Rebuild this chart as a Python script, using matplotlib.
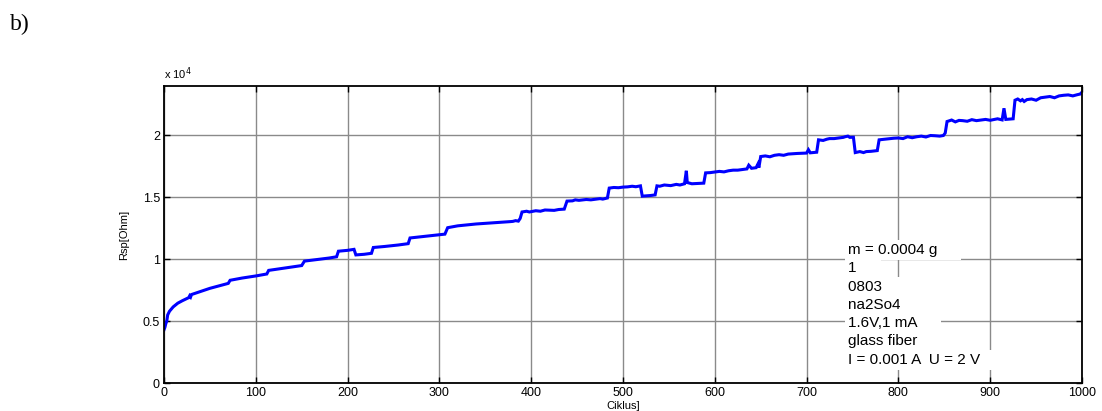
import matplotlib
matplotlib.use("Agg")
import matplotlib.pyplot as plt
from matplotlib.ticker import FuncFormatter, MultipleLocator

# Specific resistance vs. cycle number (breakpoints of the measured trace)
cycle = [0, 1, 2, 3, 4, 6, 10, 15, 20, 27, 28, 29, 30, 40, 50, 60, 70, 72,
         85, 100, 112, 114, 125, 140, 150, 153, 165, 180, 188, 190, 200, 207,
         209, 218, 226, 228, 240, 255, 266, 268, 280, 295, 306, 309, 320, 340,
         360, 377, 380, 383, 386, 388, 390, 395, 398, 405, 410, 415, 425, 430,
         436, 439, 445, 448, 452, 460, 465, 475, 478, 483, 485, 490, 495, 500,
         505, 510, 514, 519, 521, 530, 535, 537, 540, 545, 552, 558, 562, 567,
         569, 570, 575, 588, 590, 595, 600, 605, 610, 615, 620, 625, 630, 635,
         637, 640, 645, 647, 648, 650, 655, 660, 665, 670, 675, 680, 690, 700,
         702, 704, 711, 713, 718, 722, 725, 730, 735, 740, 742, 745, 747, 751,
         753, 758, 762, 765, 770, 777, 779, 785, 790, 795, 800, 805, 810, 815,
         820, 825, 830, 835, 840, 845, 849, 851, 853, 858, 862, 866, 870, 875,
         880, 885, 890, 895, 900, 905, 908, 913, 915, 917, 925, 927, 930, 933,
         935, 937, 940, 945, 950, 955, 960, 965, 970, 975, 980, 985, 990, 995,
         998, 1000]
rsp = [4300, 4500, 4800, 5000, 5500, 5800, 6150, 6450, 6650, 6900, 7050, 6950,
       7150, 7400, 7650, 7850, 8050, 8300, 8480, 8650, 8810, 9100, 9220, 9380,
       9490, 9850, 9960, 10100, 10200, 10650, 10720, 10800, 10350, 10400,
       10480, 10950, 11030, 11150, 11260, 11720, 11820, 11950, 12030, 12550,
       12700, 12850, 12950, 13040, 13060, 13120, 13080, 13300, 13820, 13880,
       13820, 13920, 13880, 13980, 13950, 14020, 14050, 14700, 14720, 14800,
       14760, 14830, 14800, 14900, 14860, 14950, 15750, 15800, 15780, 15830,
       15850, 15900, 15860, 15930, 15100, 15150, 15200, 15930, 15900, 16000,
       15950, 16050, 16000, 16100, 17150, 16200, 16100, 16150, 16980, 17000,
       17050, 17100, 17060, 17150, 17200, 17200, 17250, 17300, 17600, 17350,
       17400, 17700, 17400, 18300, 18350, 18280, 18400, 18450, 18400, 18500,
       18550, 18580, 18850, 18600, 18650, 19650, 19600, 19700, 19750, 19750,
       19800, 19850, 19900, 19950, 19850, 19860, 18620, 18700, 18620, 18700,
       18720, 18780, 19650, 19700, 19750, 19780, 19800, 19750, 19900, 19820,
       19900, 19950, 19880, 20000, 19980, 19950, 20000, 20200, 21130, 21250,
       21100, 21220, 21200, 21150, 21280, 21200, 21250, 21300, 21230, 21300,
       21350, 21260, 22200, 21300, 21350, 22850, 22950, 22800, 22900, 22750,
       22900, 22950, 22850, 23050, 23100, 23150, 23050, 23200, 23250, 23280,
       23200, 23300, 23350, 23500]

info_lines = ["m = 0.0004 g", "1", "0803", "na2So4", "1.6V,1 mA",
              "glass fiber", "I = 0.001 A  U = 2 V"]

plt.rcParams["font.family"] = ["Liberation Sans", "DejaVu Sans"]

fig = plt.figure(figsize=(11.02, 4.11), dpi=100)
ax = fig.add_axes([164 / 1102, 1 - 383 / 411, (1082 - 164) / 1102, (383 - 86) / 411])

ax.plot(cycle, rsp, color="#0000ff", lw=2.2, solid_joinstyle="miter")

ax.set_xlim(0, 1000)
ax.set_ylim(0, 24000)
ax.xaxis.set_major_locator(MultipleLocator(100))
ax.set_yticks([0, 5000, 10000, 15000, 20000])
ax.yaxis.set_major_formatter(FuncFormatter(lambda v, p: f"{v / 1e4:g}"))

ax.grid(True, color="#8a8a8a", lw=1.0)
ax.set_axisbelow(True)
ax.tick_params(direction="in", length=4, width=1, top=True, right=True,
               labelsize=9, pad=3, colors="black")
for s in ax.spines.values():
    s.set_linewidth(1.3)
    s.set_color("black")

ax.set_xlabel("Ciklus]", fontsize=8, labelpad=1)
ax.set_ylabel("Rsp[Ohm]", fontsize=8, labelpad=10)

ax.text(0.0, 1.012, r"x 10$^4$", transform=ax.transAxes, fontsize=8,
        ha="left", va="bottom")

# Annotation lines, each with its own white background box
y0 = 250
for i, line in enumerate(info_lines):
    yp = y0 + i * 18.3
    ax.text((848 - 164) / 918, (383 - yp) / 297, line + "     ",
            transform=ax.transAxes, fontsize=11, ha="left", va="center",
            bbox=dict(facecolor="white", edgecolor="none", pad=2.0))

fig.text(10 / 1102, 1 - 24 / 411, "b)", fontsize=17,
         family=["Liberation Serif", "DejaVu Serif"], ha="left", va="center")

fig.savefig("out.png", dpi=100, facecolor="white")
